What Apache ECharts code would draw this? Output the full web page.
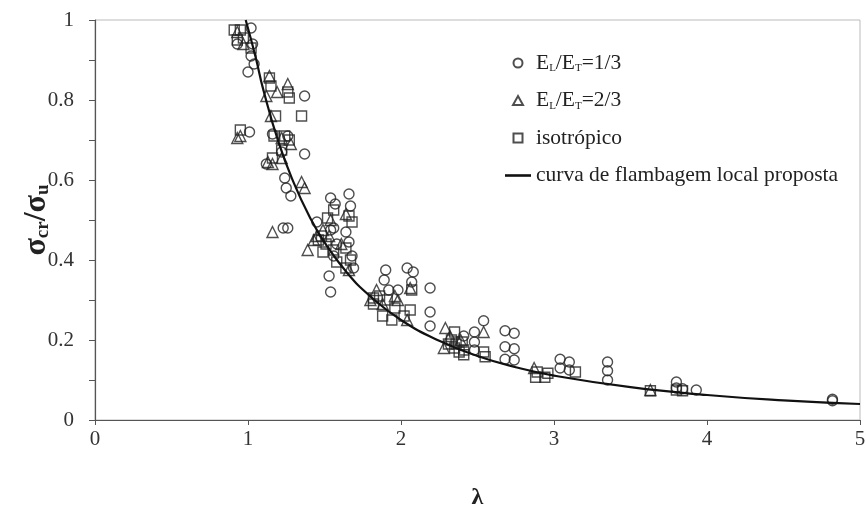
<!DOCTYPE html>
<html>
<head>
<meta charset="utf-8">
<script src="https://cdn.jsdelivr.net/npm/echarts@6/dist/echarts.min.js"></script>
<style>
  html, body { margin: 0; padding: 0; background: #fff; }
  #chart { width: 866px; height: 509px; }
</style>
</head>
<body>
<div id="chart"></div>
<script>
// E_L/E_T = 1/3
const ratio13 = [
  [0.93, 0.94], [1.02, 0.98], [1.03, 0.94], [1.02, 0.91], [1.0, 0.87], [1.04, 0.89],
  [1.01, 0.72], [1.37, 0.81], [1.16, 0.715], [1.26, 0.71], [1.22, 0.67], [1.37, 0.665],
  [1.25, 0.58], [1.24, 0.605], [1.26, 0.48], [1.23, 0.48], [1.28, 0.56], [1.12, 0.64],
  [1.54, 0.555], [1.57, 0.54], [1.66, 0.565], [1.67, 0.535], [1.58, 0.44], [1.56, 0.41],
  [1.53, 0.36], [1.54, 0.32], [1.66, 0.445], [1.68, 0.41], [1.54, 0.475], [1.56, 0.48],
  [1.45, 0.495], [1.64, 0.47], [1.69, 0.38],
  [1.90, 0.375], [1.89, 0.35], [2.04, 0.38], [2.08, 0.37], [2.19, 0.33], [2.19, 0.27],
  [2.19, 0.235], [1.98, 0.325], [1.92, 0.325], [2.07, 0.345],
  [2.54, 0.248], [2.48, 0.22], [2.41, 0.21], [2.48, 0.195], [2.48, 0.175],
  [2.68, 0.223], [2.74, 0.217], [2.68, 0.183], [2.74, 0.178], [2.68, 0.152], [2.74, 0.15],
  [3.04, 0.152], [3.10, 0.145], [3.04, 0.13], [3.10, 0.125],
  [3.35, 0.145], [3.35, 0.123], [3.35, 0.10],
  [3.80, 0.095], [3.80, 0.08], [3.84, 0.078], [3.93, 0.075], [4.82, 0.052], [4.82, 0.048]
];
// E_L/E_T = 2/3
const ratio23 = [
  [0.93, 0.97], [0.97, 0.94], [0.93, 0.705], [0.95, 0.71],
  [1.14, 0.86], [1.26, 0.84], [1.12, 0.81], [1.19, 0.82], [1.15, 0.76], [1.22, 0.705],
  [1.13, 0.645], [1.16, 0.64], [1.28, 0.69], [1.22, 0.655], [1.16, 0.47], [1.35, 0.595],
  [1.37, 0.58], [1.39, 0.425],
  [1.54, 0.50], [1.49, 0.475], [1.45, 0.46], [1.43, 0.45], [1.64, 0.515], [1.66, 0.375],
  [1.61, 0.44], [1.53, 0.46],
  [1.84, 0.325], [1.98, 0.30], [1.88, 0.29], [2.04, 0.25], [2.06, 0.33], [1.80, 0.30], [1.96, 0.31],
  [2.29, 0.23], [2.54, 0.22], [2.28, 0.18], [2.32, 0.21], [2.39, 0.20], [2.87, 0.13],
  [3.63, 0.075]
];
// isotrópico
const isotropic = [
  [0.91, 0.975], [0.95, 0.975], [0.97, 0.955], [0.93, 0.95], [1.02, 0.93], [0.95, 0.725],
  [1.14, 0.855], [1.15, 0.835], [1.26, 0.82], [1.27, 0.805], [1.35, 0.76], [1.18, 0.76],
  [1.17, 0.71], [1.24, 0.71], [1.27, 0.70], [1.22, 0.675], [1.16, 0.655],
  [1.56, 0.525], [1.52, 0.505], [1.66, 0.51], [1.68, 0.495], [1.48, 0.46], [1.51, 0.44],
  [1.49, 0.42], [1.56, 0.425], [1.64, 0.43], [1.67, 0.40], [1.64, 0.38], [1.58, 0.395], [1.46, 0.45],
  [1.86, 0.31], [1.82, 0.29], [1.91, 0.30], [1.96, 0.28], [1.88, 0.26], [2.02, 0.26],
  [2.06, 0.275], [2.07, 0.325], [1.82, 0.305], [1.94, 0.25],
  [2.35, 0.22], [2.35, 0.18], [2.41, 0.175], [2.38, 0.17], [2.54, 0.17], [2.55, 0.158],
  [2.41, 0.163], [2.31, 0.19], [2.33, 0.20], [2.36, 0.19], [2.40, 0.195],
  [2.89, 0.12], [2.96, 0.117], [3.14, 0.12], [2.88, 0.107], [2.94, 0.107],
  [3.63, 0.073], [3.80, 0.075], [3.84, 0.073]
];
// curva de flambagem local proposta
const curve = [
  [0.985, 1.0], [1.05, 0.907], [1.1, 0.826], [1.2, 0.694], [1.3, 0.592], [1.4, 0.51],
  [1.5, 0.444], [1.65, 0.367], [1.8, 0.309], [2.0, 0.25], [2.25, 0.198], [2.5, 0.16],
  [2.75, 0.132], [3.0, 0.111], [3.5, 0.082], [4.0, 0.0625], [4.5, 0.049], [5.0, 0.04]
];

const names = ['E_L/E_T=1/3', 'E_L/E_T=2/3', 'isotrópico', 'curva de flambagem local proposta'];

const serif = 'Liberation Serif';
const axisColor = '#555';

const chart = echarts.init(document.getElementById('chart'));

function scatter(name, symbol, data, size) {
  return {
    name: name,
    type: 'scatter',
    symbol: symbol,
    symbolSize: size,
    data: data,
    itemStyle: { color: 'rgba(255,255,255,0)', borderColor: '#222', borderWidth: 1.4 },
    emphasis: { disabled: true }
  };
}

chart.setOption({
  backgroundColor: '#fff',
  animation: false,
  grid: {
    left: 95, right: 6, top: 20, bottom: 89,
    containLabel: false, outerBoundsMode: 'none',
    show: true, borderColor: '#bbb', borderWidth: 1
  },
  legend: {
    orient: 'vertical',
    left: 500,
    top: 47,
    itemGap: 15.5,
    itemWidth: 26,
    itemHeight: 9,
    symbolKeepAspect: true,
    data: [
      { name: names[0], icon: 'circle' },
      { name: names[1], icon: 'path://M5,0 L10,9 L0,9 Z' },
      { name: names[2], icon: 'path://M0,0 L10,0 L10,10 L0,10 Z' },
      { name: names[3], icon: 'path://M0,0 L30,0 L30,3 L0,3 Z' }
    ],
    textStyle: {
      fontFamily: serif,
      fontSize: 21.5,
      color: '#222',
      rich: {
        n: { fontFamily: serif, fontSize: 21.5, color: '#222' },
        s: { fontFamily: serif, fontSize: 11, color: '#222', verticalAlign: 'bottom', padding: [9, 0, 0, 0] }
      }
    },
    formatter: function (name) {
      if (name.indexOf('E_L') === 0) {
        return '{n|E}{s|L}{n|/E}{s|T}{n|' + name.slice(7) + '}';
      }
      return name;
    }
  },
  xAxis: {
    type: 'value',
    min: 0,
    max: 5,
    interval: 1,
    name: 'λ',
    nameLocation: 'middle',
    nameGap: 66,
    nameTextStyle: { fontFamily: serif, fontSize: 24, fontWeight: 'bold', color: '#222' },
    axisLine: { lineStyle: { color: axisColor, width: 1.2 } },
    axisTick: { show: true, length: 5, lineStyle: { color: axisColor } },
    axisLabel: { fontFamily: serif, fontSize: 21, color: '#333', margin: 9 },
    splitLine: { show: false }
  },
  yAxis: {
    type: 'value',
    min: 0,
    max: 1,
    interval: 0.2,
    name: '{b|σ}{s|cr}{b|/σ}{s|u}',
    nameLocation: 'middle',
    nameGap: 42,
    nameMoveOverlap: false,
    nameTextStyle: {
      rich: {
        b: { fontFamily: serif, fontSize: 32, fontWeight: 'bold', color: '#222' },
        s: { fontFamily: serif, fontSize: 19, fontWeight: 'bold', color: '#222', verticalAlign: 'bottom', padding: [13, 0, 0, 0] }
      }
    },
    axisLine: { show: true, lineStyle: { color: axisColor, width: 1.2 } },
    axisTick: { show: true, length: 6, lineStyle: { color: axisColor } },
    minorTick: { show: true, splitNumber: 2, length: 6, lineStyle: { color: axisColor } },
    axisLabel: { fontFamily: serif, fontSize: 21, color: '#333', margin: 21 },
    splitLine: { show: false },
    minorSplitLine: { show: false }
  },
  series: [
    scatter(names[0], 'circle', ratio13, 10),
    scatter(names[1], 'triangle', ratio23, 11),
    scatter(names[2], 'rect', isotropic, 10),
    {
      name: names[3],
      type: 'line',
      data: curve,
      smooth: true,
      showSymbol: false,
      symbol: 'none',
      lineStyle: { color: '#111', width: 2.2 },
      itemStyle: { color: '#111' },
      z: 5
    }
  ]
});
</script>
</body>
</html>
